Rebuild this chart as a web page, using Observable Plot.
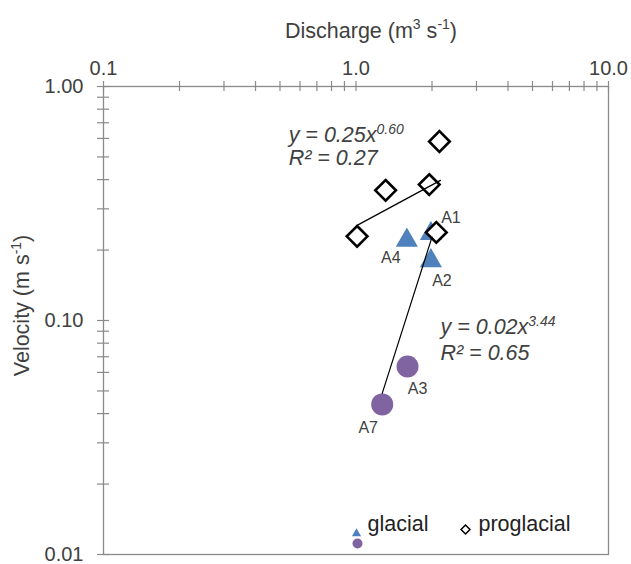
<!DOCTYPE html>
<html><head><meta charset="utf-8">
<script src="https://cdn.jsdelivr.net/npm/d3@7"></script>
<script src="https://cdn.jsdelivr.net/npm/@observablehq/plot@0.6"></script>
<style>body{margin:0;background:#fff}</style>
</head><body><div id="chart"></div>
<script>
// ---- data ----
const glacialSites = ["A1", "A2", "A4"];
const glacialQ = [1.98, 1.98, 1.59];
const glacialV = [0.235, 0.18, 0.22];
const glacialBSites = ["A3", "A7"];
const glacialBQ = [1.60, 1.27];
const glacialBV = [0.0636, 0.0438];
const proglacialQ = [1.01, 1.31, 1.95, 2.14, 2.08];
const proglacialV = [0.229, 0.36, 0.381, 0.582, 0.238];
const proTrendQ = [1.01, 2.16];
const proTrendV = [0.255, 0.397];
const glaTrendQ = [1.27, 2.0];
const glaTrendV = [0.0488, 0.227];
const xTickValues = [0.1, 1, 10];
const xTickLabels = ["0.1", "1.0", "10.0"];
const yTickValues = [1, 0.1, 0.01];
const yTickLabels = ["1.00", "0.10", "0.01"];
const proEq = "y = 0.25x^{0.60}", proR2 = "R² = 0.27";
const glaEq = "y = 0.02x^{3.44}", glaR2 = "R² = 0.65";
const proEqPos = {x: 0.541, y: 0.617}, proR2Pos = {x: 0.541, y: 0.492};
const glaEqPos = {x: 2.16, y: 0.0933}, glaR2Pos = {x: 2.16, y: 0.0723};

// ---- tables ----
const glacial = glacialSites.map((s, i) => ({site: s, q: glacialQ[i], v: glacialV[i]}));
const glacialB = glacialBSites.map((s, i) => ({site: s, q: glacialBQ[i], v: glacialBV[i]}));
const proglacial = proglacialQ.map((q, i) => ({q, v: proglacialV[i]}));
const proTrend = proTrendQ.map((q, i) => ({q, v: proTrendV[i]}));
const glaTrend = glaTrendQ.map((q, i) => ({q, v: glaTrendV[i]}));
const xMinor = [], yMinor = [];
for (const d of [0.1, 1]) for (let k = 1; k <= 9; k++) xMinor.push(d * k);
xMinor.push(10);
for (const d of [0.01, 0.1]) for (let k = 1; k <= 9; k++) yMinor.push(d * k);
yMinor.push(1);

const labelOffsets = {A1: [20, -16], A2: [11, 20], A4: [-16, 18], A3: [10, 22], A7: [-14, 23]};
const blue = "#4F81BD", purple = "#8064A2", axisGray = "#8a8a8a";
const font = "'Liberation Sans', Arial, sans-serif";

const allSites = [...glacial, ...glacialB];
const labelMarks = allSites.map(d => Plot.text([d], {
  x: "q", y: "v", text: "site", dx: labelOffsets[d.site][0], dy: labelOffsets[d.site][1], fontSize: 16
}));
const annFs = 21.5;

const chart = Plot.plot({
  width: 631, height: 564,
  marginLeft: 103, marginRight: 23, marginTop: 86, marginBottom: 10,
  x: {type: "log", domain: [0.1, 10], axis: null},
  y: {type: "log", domain: [0.01, 1], axis: null},
  style: {fontFamily: font, color: "#404040", background: "white"},
  marks: [
    Plot.frame({stroke: axisGray, strokeWidth: 1.3}),
    Plot.ruleX(xMinor, {x: d => d, y1: 1, y2: 1, insetTop: -5, insetBottom: -5, stroke: axisGray, strokeWidth: 1.2}),
    Plot.ruleY(yMinor, {y: d => d, x1: 0.1, x2: 0.1, insetLeft: -6, insetRight: -6, stroke: axisGray, strokeWidth: 1.2}),
    Plot.text(xTickValues, {x: d => d, frameAnchor: "top", dy: -26, text: (d, i) => xTickLabels[i], fontSize: 20}),
    Plot.text(yTickValues, {y: d => d, frameAnchor: "left", dx: -20, textAnchor: "end", text: (d, i) => yTickLabels[i], fontSize: 20}),
    Plot.text(["Discharge (m^{3} s^{-1})"], {frameAnchor: "top", textAnchor: "middle", dx: 15, dy: -64, text: d => d, fontSize: 21.5}),
    Plot.text(["Velocity (m s^{-1})"], {frameAnchor: "left", textAnchor: "middle", dx: -81, dy: -15, rotate: -90, text: d => d, fontSize: 21.5}),
    Plot.dot(glacial, {x: "q", y: "v", symbol: "triangle", r: 8.2, fill: blue}),
    Plot.dot(glacialB, {x: "q", y: "v", symbol: "circle", r: 11, fill: purple}),
    Plot.dot(proglacial, {x: "q", y: "v", symbol: "diamond2", r: 9.3, fill: "white", stroke: "black", strokeWidth: 2.6}),
    Plot.line(proTrend, {x: "q", y: "v", stroke: "black", strokeWidth: 1.2}),
    Plot.line(glaTrend, {x: "q", y: "v", stroke: "black", strokeWidth: 1.2}),
    ...labelMarks,
    Plot.text([proEq], {x: () => proEqPos.x, y: () => proEqPos.y, text: d => d, textAnchor: "start", fontSize: annFs, fontStyle: "italic"}),
    Plot.text([proR2], {x: () => proR2Pos.x, y: () => proR2Pos.y, text: d => d, textAnchor: "start", fontSize: annFs, fontStyle: "italic"}),
    Plot.text([glaEq], {x: () => glaEqPos.x, y: () => glaEqPos.y, text: d => d, textAnchor: "start", fontSize: annFs, fontStyle: "italic"}),
    Plot.text([glaR2], {x: () => glaR2Pos.x, y: () => glaR2Pos.y, text: d => d, textAnchor: "start", fontSize: annFs, fontStyle: "italic"}),
    // legend
    Plot.dot([0], {x: null, y: null, frameAnchor: "bottom-left", dx: 253, dy: -21, symbol: "triangle", r: 3.4, fill: blue}),
    Plot.dot([0], {x: null, y: null, frameAnchor: "bottom-left", dx: 254, dy: -11, symbol: "circle", r: 5, fill: purple}),
    Plot.text(["glacial"], {frameAnchor: "bottom-left", dx: 264, dy: -24, text: d => d, textAnchor: "start", fontSize: 21.5, fill: "#222"}),
    Plot.dot([0], {x: null, y: null, frameAnchor: "bottom-left", dx: 362, dy: -25, symbol: "diamond2", r: 4, fill: "white", stroke: "black", strokeWidth: 1.5}),
    Plot.text(["proglacial"], {frameAnchor: "bottom-left", dx: 375, dy: -24, text: d => d, textAnchor: "start", fontSize: 21.5, fill: "#222"})
  ]
});
document.getElementById("chart").appendChild(chart);

// superscript post-processing
d3.select(chart).selectAll("text").each(function () {
  const el = this;
  const t = el.textContent;
  if (!t.includes("^{")) return;
  const fs = parseFloat(getComputedStyle(el).fontSize) || 16;
  const parts = t.split(/(\^\{[^}]*\})/);
  el.textContent = "";
  let raised = false;
  for (const p of parts) {
    if (!p) continue;
    const ts = document.createElementNS("http://www.w3.org/2000/svg", "tspan");
    if (p.startsWith("^{")) {
      ts.textContent = p.slice(2, -1);
      ts.setAttribute("font-size", fs * 0.65);
      ts.setAttribute("dy", -fs * 0.4);
      raised = true;
    } else {
      ts.textContent = p;
      if (raised) { ts.setAttribute("dy", fs * 0.4); raised = false; }
    }
    el.appendChild(ts);
  }
});
</script>
</body></html>
